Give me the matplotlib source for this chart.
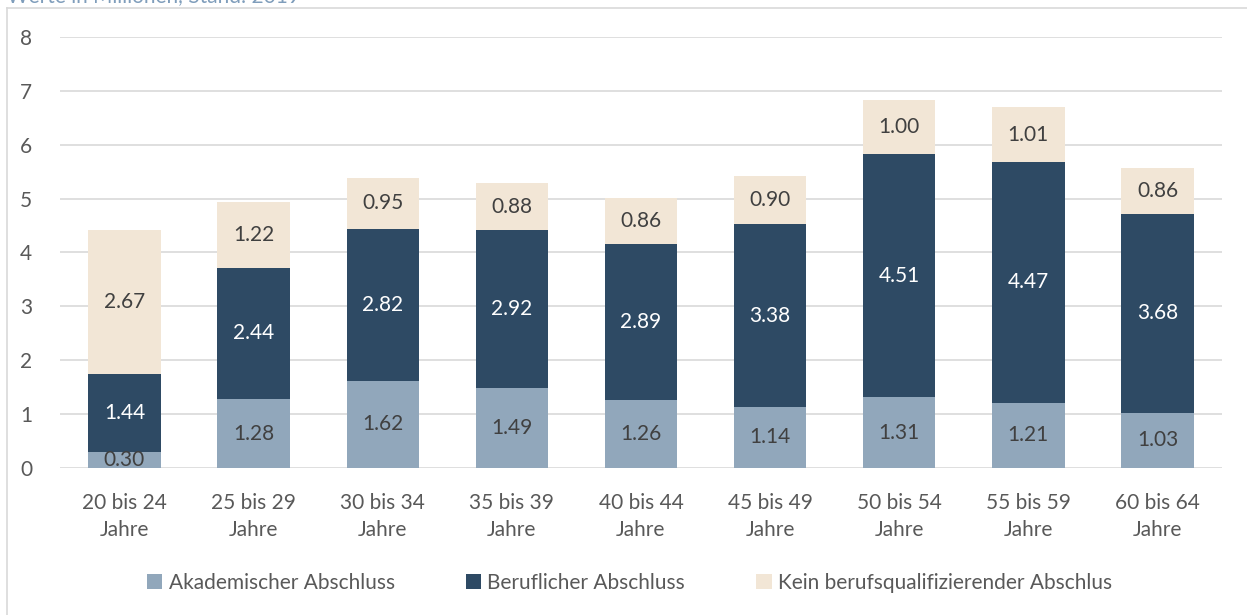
import matplotlib.pyplot as plt
import numpy as np

plt.rcParams['font.family'] = ['Lato', 'DejaVu Sans']

altersgruppen = ["20 bis 24\nJahre", "25 bis 29\nJahre", "30 bis 34\nJahre", "35 bis 39\nJahre",
                 "40 bis 44\nJahre", "45 bis 49\nJahre", "50 bis 54\nJahre", "55 bis 59\nJahre",
                 "60 bis 64\nJahre"]
akademisch = [0.30, 1.28, 1.62, 1.49, 1.26, 1.14, 1.31, 1.21, 1.03]
beruflich = [1.44, 2.44, 2.82, 2.92, 2.89, 3.38, 4.51, 4.47, 3.68]
kein_abschluss = [2.67, 1.22, 0.95, 0.88, 0.86, 0.90, 1.00, 1.01, 0.86]

grau = "#595959"

fig = plt.figure(figsize=(12.47, 6.15), dpi=100)
ax = fig.add_axes([0.048, 0.239, 0.932, 0.701])

x = np.arange(len(altersgruppen))
breite = 0.56

# gestapelte Balken
b1 = ax.bar(x, akademisch, breite, color="#91A7BB", label="Akademischer Abschluss", zorder=3)
b2 = ax.bar(x, beruflich, breite, bottom=akademisch, color="#2E4A64", label="Beruflicher Abschluss", zorder=3)
unten = [a + b for a, b in zip(akademisch, beruflich)]
b3 = ax.bar(x, kein_abschluss, breite, bottom=unten, color="#F2E6D6",
            label="Kein berufsqualifizierender Abschlus", zorder=3)

ax.bar_label(b1, labels=[f"{v:.2f}" for v in akademisch], label_type="center", color="#404040", fontsize=15, zorder=4)
ax.bar_label(b2, labels=[f"{v:.2f}" for v in beruflich], label_type="center", color="white", fontsize=15, zorder=4)
ax.bar_label(b3, labels=[f"{v:.2f}" for v in kein_abschluss], label_type="center", color="#404040", fontsize=15, zorder=4)

ax.set_xlim(-0.5, len(altersgruppen) - 0.5)
ax.set_ylim(0, 8)
ax.set_yticks(range(0, 9))
ax.set_xticks(x)
ax.set_xticklabels(altersgruppen, color=grau, fontsize=15, linespacing=1.45)
ax.tick_params(axis="y", colors=grau, labelsize=15, length=0, pad=20)
ax.tick_params(axis="x", length=0, pad=18)
ax.grid(axis="y", color="#D9D9D9", linewidth=1.2, zorder=0)
for s in ax.spines.values():
    s.set_visible(False)

ax.legend(loc="upper center", bbox_to_anchor=(0.49, -0.2), ncol=3, frameon=False, fontsize=15,
          labelcolor=grau, handlelength=0.75, handleheight=0.75, handletextpad=0.3, columnspacing=3.4)

# Rahmen und abgeschnittener Untertitel
fig.add_artist(plt.Line2D([0.0056, 0.0056], [0, 1 - 8 / 615], color="#D9D9D9", linewidth=1.2))
fig.add_artist(plt.Line2D([0.0056, 1], [1 - 8 / 615, 1 - 8 / 615], color="#D9D9D9", linewidth=1.2))
fig.text(0.006, 1 - 6 / 615, "Werte in Millionen, Stand: 2019", color="#7F9DBB", fontsize=15, va="bottom")

fig.savefig("out.png", dpi=100)
